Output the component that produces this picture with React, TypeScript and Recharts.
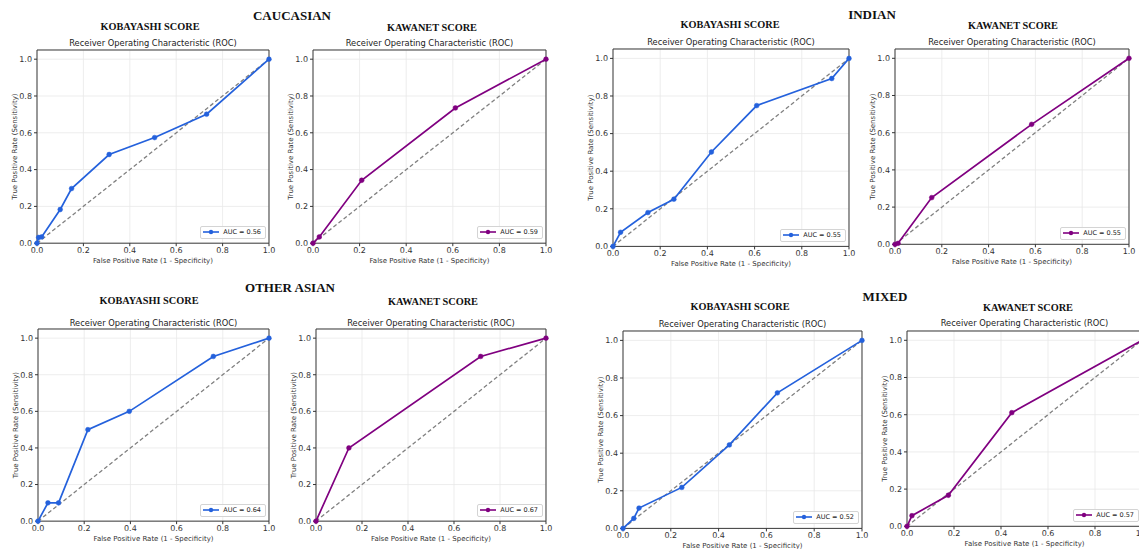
import {
  LineChart,
  Line,
  XAxis,
  YAxis,
  CartesianGrid,
  ReferenceArea,
  Legend,
} from 'recharts';

// Axis ticks shared by every panel
const axisTicks = [0, 0.2, 0.4, 0.6, 0.8, 1.0];

// Caucasian
const cauKobFpr = [0, 0.007, 0.02, 0.1, 0.149, 0.311, 0.507, 0.731, 1];
const cauKobTpr = [0, 0.031, 0.034, 0.183, 0.297, 0.482, 0.574, 0.701, 1];
const cauKawFpr = [0, 0.027, 0.209, 0.611, 1];
const cauKawTpr = [0, 0.034, 0.342, 0.735, 1];

// Indian
const indKobFpr = [0, 0.032, 0.148, 0.258, 0.417, 0.609, 0.927, 1];
const indKobTpr = [0, 0.075, 0.18, 0.251, 0.502, 0.749, 0.893, 1];
const indKawFpr = [0, 0.013, 0.157, 0.584, 1];
const indKawTpr = [0, 0.005, 0.251, 0.645, 1];

// Other Asian
const oaKobFpr = [0, 0.043, 0.089, 0.216, 0.395, 0.759, 1];
const oaKobTpr = [0, 0.1, 0.1, 0.5, 0.6, 0.9, 1];
const oaKawFpr = [0, 0.143, 0.716, 1];
const oaKawTpr = [0, 0.4, 0.9, 1];

// Mixed
const mixKobFpr = [0, 0.045, 0.067, 0.246, 0.445, 0.646, 1];
const mixKobTpr = [0, 0.053, 0.108, 0.218, 0.444, 0.721, 1];
const mixKawFpr = [0, 0.021, 0.176, 0.446, 1];
const mixKawTpr = [0, 0.057, 0.167, 0.611, 1];

const aucValues = [0.56, 0.59, 0.55, 0.55, 0.64, 0.67, 0.52, 0.57];

const groupTitles = ['CAUCASIAN', 'INDIAN', 'OTHER ASIAN', 'MIXED'];
const scoreTitles = ['KOBAYASHI SCORE', 'KAWANET SCORE'];

const diagFpr = [0, 1];

const BLUE = '#2461dc';
const PURPLE = '#800080';

const toPoints = (fpr: number[], tpr: number[]) =>
  fpr.map((x, i) => ({ x, y: tpr[i] }));

const diagData = diagFpr.map((x) => ({ x, y: x }));

// where each plot area sits on the page (x0/x1 = fpr 0/1, y0/y1 = tpr 0/1)
const panels = [
  { fpr: cauKobFpr, tpr: cauKobTpr, kind: 0, x0: 37, x1: 269, y1: 59, y0: 243, subX: 150, subY: 27, titleY: 43 },
  { fpr: cauKawFpr, tpr: cauKawTpr, kind: 1, x0: 313, x1: 546, y1: 59, y0: 243, subX: 432, subY: 28, titleY: 43 },
  { fpr: indKobFpr, tpr: indKobTpr, kind: 0, x0: 613, x1: 849, y1: 58, y0: 246, subX: 730, subY: 25, titleY: 42 },
  { fpr: indKawFpr, tpr: indKawTpr, kind: 1, x0: 895, x1: 1129, y1: 58, y0: 244, subX: 1013, subY: 26, titleY: 42 },
  { fpr: oaKobFpr, tpr: oaKobTpr, kind: 0, x0: 38, x1: 269, y1: 338, y0: 521, subX: 149, subY: 301, titleY: 323 },
  { fpr: oaKawFpr, tpr: oaKawTpr, kind: 1, x0: 316, x1: 546, y1: 338, y0: 521, subX: 433, subY: 302, titleY: 323 },
  { fpr: mixKobFpr, tpr: mixKobTpr, kind: 0, x0: 623, x1: 862, y1: 340, y0: 528, subX: 740, subY: 307, titleY: 324 },
  { fpr: mixKawFpr, tpr: mixKawTpr, kind: 1, x0: 907, x1: 1142, y1: 340, y0: 526, subX: 1028, subY: 308, titleY: 323 },
];

const groupPos = [
  { x: 292, y: 16 },
  { x: 872, y: 15 },
  { x: 290, y: 288 },
  { x: 885, y: 297 },
];

const sansFont = '"DejaVu Sans", sans-serif';
const serifFont = '"Liberation Serif", "Times New Roman", serif';

const LegendBox = ({ color, auc }: { color: string; auc: number }) => (
  <div
    style={{
      display: 'flex',
      alignItems: 'center',
      border: '1px solid #d4d4d4',
      borderRadius: 2,
      background: 'rgba(255,255,255,0.85)',
      padding: '1px 4px 1px 2px',
      fontFamily: sansFont,
      fontSize: 6.5,
      color: '#222',
      lineHeight: '9px',
      whiteSpace: 'nowrap',
    }}
  >
    <svg width={16} height={8}>
      <line x1={0} y1={4} x2={16} y2={4} stroke={color} strokeWidth={1.6} />
      <circle cx={8} cy={4} r={2.2} fill={color} />
    </svg>
    <span style={{ marginLeft: 4 }}>AUC = {auc.toFixed(2)}</span>
  </div>
);

const YW = 26;
const MT = 3;
const MR = 10;
const XH = 20;
const MB = 2;

const RocPanel = ({ p, auc }: { p: (typeof panels)[number]; auc: number }) => {
  const color = p.kind === 0 ? BLUE : PURPLE;
  const plotW = p.x1 - p.x0;
  const plotH = (p.y0 - p.y1) * 1.05;
  const plotTop = p.y0 - plotH;
  const width = YW + plotW + MR;
  const height = MT + plotH + XH + MB;
  const data = toPoints(p.fpr, p.tpr);
  const tickStyle = { fontSize: 8, fill: '#333', fontFamily: sansFont };

  return (
    <>
      <div
        style={{
          position: 'absolute',
          left: p.subX - 100,
          width: 200,
          top: p.subY - 7,
          lineHeight: '14px',
          textAlign: 'center',
          fontFamily: serifFont,
          fontWeight: 'bold',
          fontSize: 10.3,
          color: '#111',
        }}
      >
        {scoreTitles[p.kind]}
      </div>
      <div
        style={{
          position: 'absolute',
          left: (p.x0 + p.x1) / 2 - 120,
          width: 240,
          top: p.titleY - 6,
          lineHeight: '12px',
          textAlign: 'center',
          fontFamily: sansFont,
          fontSize: 8.3,
          color: '#222',
        }}
      >
        Receiver Operating Characteristic (ROC)
      </div>
      <div style={{ position: 'absolute', left: p.x0 - YW, top: plotTop - MT }}>
        <LineChart
          width={width}
          height={height}
          data={data}
          margin={{ top: MT, right: MR, left: 0, bottom: MB }}
        >
          <CartesianGrid stroke="#e8e8e8" strokeWidth={0.8} />
          <XAxis
            type="number"
            dataKey="x"
            domain={[0, 1]}
            ticks={axisTicks}
            height={XH}
            axisLine={false}
            tickSize={3}
            tickMargin={1}
            tickLine={{ stroke: '#333' }}
            tick={tickStyle}
            tickFormatter={(v: number) => v.toFixed(1)}
            interval={0}
            label={{
              value: 'False Positive Rate (1 - Specificity)',
              position: 'insideBottom',
              offset: 0,
              style: { fontSize: 7, fill: '#333', fontFamily: sansFont },
            }}
          />
          <YAxis
            type="number"
            domain={[0, 1.05]}
            ticks={axisTicks}
            width={YW}
            axisLine={false}
            tickSize={3}
            tickMargin={2}
            tickLine={{ stroke: '#333' }}
            tick={tickStyle}
            tickFormatter={(v: number) => v.toFixed(1)}
            interval={0}
            label={{
              value: 'True Positive Rate (Sensitivity)',
              angle: -90,
              position: 'insideLeft',
              offset: 3.5,
              style: { fontSize: 7, fill: '#333', fontFamily: sansFont, textAnchor: 'middle' },
            }}
          />
          <ReferenceArea x1={0} x2={1} y1={0} y2={1.05} fill="none" stroke="#3a3a3a" strokeWidth={1} />
          <Line
            data={diagData}
            dataKey="y"
            stroke="#808080"
            strokeWidth={1.3}
            strokeDasharray="4 2.5"
            dot={false}
            isAnimationActive={false}
            legendType="none"
          />
          <Line
            dataKey="y"
            stroke={color}
            strokeWidth={1.7}
            dot={{ r: 2.4, fill: color, stroke: color, strokeWidth: 0.5 }}
            isAnimationActive={false}
          />
          <Legend
            layout="vertical"
            align="center"
            verticalAlign="middle"
            content={() => <LegendBox color={color} auc={auc} />}
            wrapperStyle={{
              left: 'auto',
              top: 'auto',
              width: 'auto',
              right: MR + 3,
              bottom: MB + XH + 4,
            }}
          />
        </LineChart>
      </div>
    </>
  );
};

const App = () => (
  <div
    style={{
      position: 'absolute',
      left: 0,
      top: 0,
      width: 1139,
      height: 549,
      overflow: 'hidden',
      background: '#fff',
    }}
  >
    {groupTitles.map((t, i) => (
      <div
        key={t}
        style={{
          position: 'absolute',
          left: groupPos[i].x - 100,
          width: 200,
          top: groupPos[i].y - 8,
          lineHeight: '16px',
          textAlign: 'center',
          fontFamily: serifFont,
          fontWeight: 'bold',
          fontSize: 13,
          color: '#111',
        }}
      >
        {t}
      </div>
    ))}
    {panels.map((p, i) => (
      <RocPanel key={i} p={p} auc={aucValues[i]} />
    ))}
  </div>
);

export default App;
